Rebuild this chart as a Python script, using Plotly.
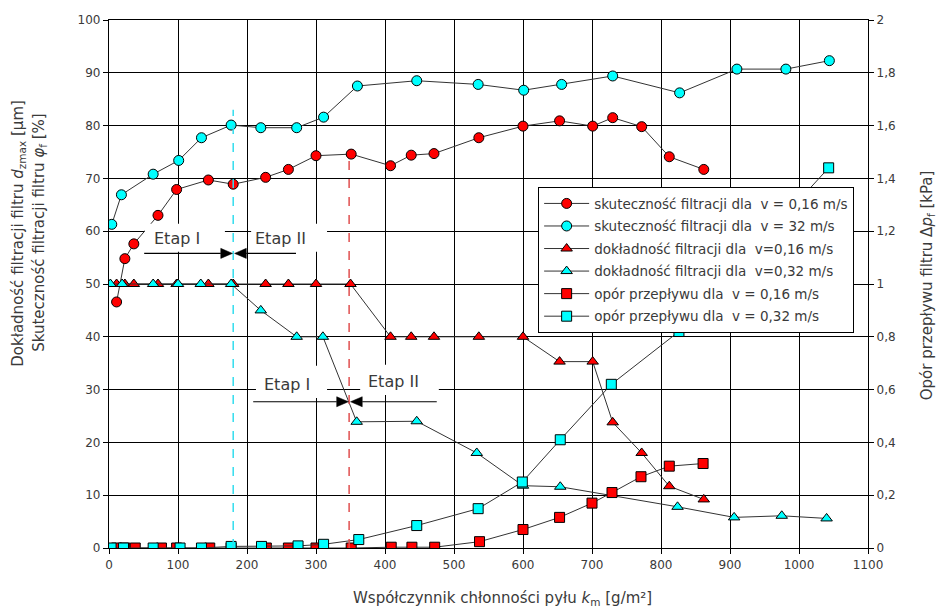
import plotly.graph_objects as go

# ---- data ----
skut_016_x = [11, 23, 36, 71, 98, 144, 180, 227, 260, 300, 351, 408, 438, 471, 536, 600, 653, 701, 730, 772, 812, 862]
skut_016_y = [46.6, 54.8, 57.6, 63.0, 67.9, 69.7, 68.9, 70.2, 71.7, 74.3, 74.6, 72.4, 74.4, 74.7, 77.7, 79.9, 80.9, 79.9, 81.5, 79.8, 74.1, 71.7]

skut_032_x = [4, 18, 64, 101, 134, 177, 220, 272, 311, 360, 446, 535, 601, 656, 730, 827, 910, 981, 1044]
skut_032_y = [61.3, 66.9, 70.8, 73.4, 77.7, 80.1, 79.6, 79.6, 81.6, 87.5, 88.5, 87.8, 86.7, 87.8, 89.4, 86.2, 90.7, 90.7, 92.3]

dokl_016_x = [11, 23, 36, 71, 98, 144, 180, 227, 260, 300, 350, 408, 438, 471, 536, 600, 653, 701, 730, 772, 812, 862]
dokl_016_y = [50, 50, 50, 50, 50, 50, 50, 50, 50, 50, 50, 40, 40, 40, 40, 40, 35.3, 35.3, 23.8, 18.0, 11.7, 9.2]

dokl_032_x = [2, 19, 64, 100, 133, 177, 220, 272, 310, 359, 446, 533, 600, 654, 824, 906, 975, 1040]
dokl_032_y = [50, 50, 50, 50, 50, 50, 45, 40, 40, 23.9, 24, 18, 11.8, 11.6, 7.8, 5.8, 6.1, 5.6]

opor_016_x = [11, 23, 38, 76, 98, 146, 177, 228, 260, 300, 351, 409, 439, 472, 537, 600, 653, 700, 729, 771, 812, 861]
opor_016_y = [0, 0, 0, 0, 0, 0, 0, 0, 0, 0, 0, 0.003, 0.003, 0.003, 0.024, 0.07, 0.116, 0.17, 0.21, 0.27, 0.31, 0.32]

opor_032_x = [3, 21, 64, 103, 134, 177, 221, 274, 311, 362, 446, 535, 599, 654, 728, 826, 1043]
opor_032_y = [0, 0, 0, 0, 0, 0.006, 0.006, 0.008, 0.014, 0.032, 0.085, 0.149, 0.25, 0.41, 0.62, 0.82, 1.44]

names = [
    "skuteczność filtracji dla  v = 0,16 m/s",
    "skuteczność filtracji dla  v = 32 m/s",
    "dokładność filtracji dla  v=0,16 m/s",
    "dokładność filtracji dla  v=0,32 m/s",
    "opór przepływu dla  v = 0,16 m/s",
    "opór przepływu dla  v = 0,32 m/s",
]

x_ticks = list(range(0, 1101, 100))

# stage boundaries and labels (data coordinates)
stage_split = [180, 348]
stage_arrow_y = [55.8, 27.7]

RED = "#FF0000"
CYAN = "#00FFFF"
FONT = "DejaVu Sans, Verdana, sans-serif"
TXT = "#3a3a3a"

fig = go.Figure()

def add(x, y, name, color, symbol, axis="y"):
    fig.add_trace(go.Scatter(
        x=x, y=y, name=name, yaxis=axis, mode="lines+markers",
        line=dict(color="#333333", width=1),
        marker=dict(symbol=symbol, size=10, color=color, line=dict(color="black", width=1)),
        legendgroup=name,
    ))

add(skut_016_x, skut_016_y, names[0], RED, "circle")
add(skut_032_x, skut_032_y, names[1], CYAN, "circle")
add(dokl_016_x, dokl_016_y, names[2], RED, "triangle-up")
add(dokl_032_x, dokl_032_y, names[3], CYAN, "triangle-up")
add(opor_016_x, opor_016_y, names[4], RED, "square", "y2")
add(opor_032_x, opor_032_y, names[5], CYAN, "square", "y2")

shapes = []
# white boxes behind "Etap" labels
for (x0, x1, y0, y1) in [(52, 168, 56.1, 61.4), (206, 316, 56.1, 61.4),
                         (213, 316, 28.4, 34.5), (364, 478, 29.0, 34.7)]:
    shapes.append(dict(type="rect", xref="x", yref="y", x0=x0, x1=x1, y0=y0, y1=y1,
                       fillcolor="white", line=dict(width=0), layer="above"))
# dashed stage boundaries
shapes.append(dict(type="line", xref="x", yref="y", x0=stage_split[0], x1=stage_split[0], y0=0, y1=83,
                   line=dict(color="#33DDEE", width=1.5, dash="dash"), layer="above"))
shapes.append(dict(type="line", xref="x", yref="y", x0=stage_split[1], x1=stage_split[1], y0=0, y1=74.4,
                   line=dict(color="#E05050", width=1.5, dash="dash"), layer="above"))

# arrows (line + filled head), head length ~12px, half height ~5px
HL = 17.0   # x units (0.69 px / unit)
HH = 0.95   # y units (5.28 px / unit)
def arrow(head_x, tail_x, y):
    d = 1 if head_x > tail_x else -1
    base = head_x - d * HL
    shapes.append(dict(type="line", xref="x", yref="y", x0=tail_x, x1=base, y0=y, y1=y,
                       line=dict(color="black", width=1.2), layer="above"))
    shapes.append(dict(type="path", xref="x", yref="y",
                       path=f"M {head_x},{y} L {base},{y + HH} L {base},{y - HH} Z",
                       fillcolor="black", line=dict(color="black", width=0.5), layer="above"))

arrow(stage_split[0] - 1, 51, stage_arrow_y[0])
arrow(stage_split[0] + 2, 271, stage_arrow_y[0])
arrow(stage_split[1] - 1, 209, stage_arrow_y[1])
arrow(stage_split[1] + 2, 475, stage_arrow_y[1])

annotations = []
for (tx, ty, t) in [(98.6, 58.7, "Etap I"), (249, 58.7, "Etap II"),
                    (257.5, 30.9, "Etap I"), (412, 31.5, "Etap II")]:
    annotations.append(dict(x=tx, y=ty, xref="x", yref="y", text=t, showarrow=False,
                            font=dict(family=FONT, size=16, color=TXT)))

# axis titles
TS = 15
annotations.append(dict(xref="paper", yref="paper", x=-0.1186, y=0.597, textangle=-90,
                        text="Dokładność filtracji filtru <i>d</i><sub>zmax</sub> [μm]",
                        showarrow=False, xanchor="center", yanchor="middle",
                        font=dict(family=FONT, size=TS, color=TXT)))
annotations.append(dict(xref="paper", yref="paper", x=-0.0909, y=0.597, textangle=-90,
                        text="Skuteczność filtracji filtru <i>φ</i><sub>f</sub> [%]",
                        showarrow=False, xanchor="center", yanchor="middle",
                        font=dict(family=FONT, size=TS, color=TXT)))
annotations.append(dict(xref="paper", yref="paper", x=1.078, y=0.498, textangle=-90,
                        text="Opór przepływu filtru Δ<i>p</i><sub>f</sub> [kPa]",
                        showarrow=False, xanchor="center", yanchor="middle",
                        font=dict(family=FONT, size=TS, color=TXT)))
annotations.append(dict(xref="paper", yref="paper", x=0.519, y=-0.095,
                        text="Współczynnik chłonności pyłu <i>k</i><sub>m</sub> [g/m²]",
                        showarrow=False, xanchor="center", yanchor="middle",
                        font=dict(family=FONT, size=TS, color=TXT)))

axis_common = dict(showline=True, linecolor="black", linewidth=1.3, ticks="outside",
                   ticklen=5, tickcolor="black", tickwidth=1.3,
                   tickfont=dict(family=FONT, size=12, color=TXT), zeroline=False)

fig.update_layout(
    width=937, height=612,
    margin=dict(l=109, r=69, t=20, b=64),
    paper_bgcolor="white", plot_bgcolor="white",
    separators=",.",
    showlegend=True,
    xaxis=dict(range=[0, 1100], tickvals=x_ticks, showgrid=True, gridcolor="black",
               gridwidth=1.3, mirror=True, **axis_common),
    yaxis=dict(range=[0, 100], dtick=10, showgrid=True, gridcolor="black",
               gridwidth=1.3, **axis_common),
    yaxis2=dict(range=[0, 2], dtick=0.2, overlaying="y", side="right", showgrid=False,
                **axis_common),
    legend=dict(x=0.565, y=0.684, xanchor="left", yanchor="top", bgcolor="white",
                bordercolor="black", borderwidth=1.3,
                font=dict(family=FONT, size=13.5, color=TXT), tracegroupgap=2,
                itemwidth=45),
    shapes=shapes,
    annotations=annotations,
)

fig.write_html("out.html")
